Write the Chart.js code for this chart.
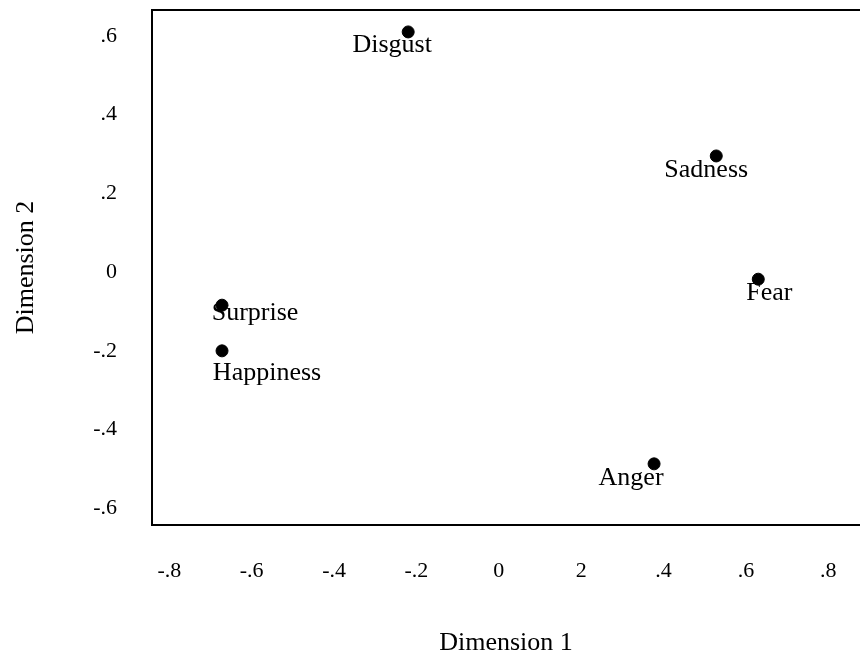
<!DOCTYPE html>
<html>
<head>
<meta charset="utf-8">
<script src="https://cdn.jsdelivr.net/npm/chart.js@4"></script>
<style>
  html, body { margin: 0; padding: 0; background: #fff; }
  #wrap { width: 860px; height: 656px; }
</style>
</head>
<body>
<div id="wrap"><canvas id="grafico" width="860" height="656"></canvas></div>
<script>
// emotion coordinates
const emotions = ["Disgust", "Sadness", "Fear", "Surprise", "Happiness", "Anger"];
const dim1 = [-0.22, 0.528, 0.63, -0.672, -0.672, 0.377];
const dim2 = [0.61, 0.295, -0.018, -0.084, -0.2, -0.487];

const xTicks = [-0.8, -0.6, -0.4, -0.2, 0, 0.2, 0.4, 0.6, 0.8];
const xTickLabels = ["-.8", "-.6", "-.4", "-.2", "0", "2", ".4", ".6", ".8"];
const yTicks = [-0.6, -0.4, -0.2, 0, 0.2, 0.4, 0.6];
const yTickLabels = ["-.6", "-.4", "-.2", "0", ".2", ".4", ".6"];

// where each name sits relative to its dot (px)
const labelPos = {
  Disgust: [-16, 20], Sadness: [-10, 21], Fear: [11, 21],
  Surprise: [33, 15], Happiness: [45, 29], Anger: [-23, 21]
};

const serif = "'Liberation Serif', 'DejaVu Serif', serif";

const pointLabels = {
  id: "pointLabels",
  afterDatasetsDraw(chart) {
    const ctx = chart.ctx;
    const meta = chart.getDatasetMeta(0);
    ctx.save();
    ctx.font = "26px " + serif;
    ctx.fillStyle = "#000";
    ctx.textAlign = "center";
    ctx.textBaseline = "alphabetic";
    meta.data.forEach((pt, i) => {
      const off = labelPos[emotions[i]] || [0, 20];
      ctx.fillText(emotions[i], pt.x + off[0], pt.y + off[1]);
    });
    ctx.restore();
  }
};

// box open on the right, like the scan
const frame = {
  id: "frame",
  afterDraw(chart) {
    const { ctx, chartArea: a } = chart;
    ctx.save();
    ctx.strokeStyle = "#000";
    ctx.lineWidth = 2;
    ctx.beginPath();
    ctx.moveTo(a.right, a.top);
    ctx.lineTo(a.left, a.top);
    ctx.lineTo(a.left, a.bottom);
    ctx.lineTo(a.right, a.bottom);
    ctx.stroke();
    ctx.restore();
  }
};

const noPad = (s) => { s.paddingLeft = 0; s.paddingRight = 0; s.paddingTop = 0; s.paddingBottom = 0; };

const ctx = document.getElementById("grafico").getContext("2d");
new Chart(ctx, {
  type: "scatter",
  data: {
    datasets: [{
      label: "Emotions",
      data: emotions.map((e, i) => ({ x: dim1[i], y: dim2[i] })),
      backgroundColor: "#000",
      borderColor: "#000",
      pointRadius: 6,
      pointHoverRadius: 6,
    }],
  },
  options: {
    responsive: false,
    animation: false,
    layout: { autoPadding: false, padding: { top: 10, right: 0, left: 0, bottom: 0 } },
    plugins: { legend: { display: false }, tooltip: { enabled: false } },
    scales: {
      x: {
        type: "linear",
        min: -0.842,
        max: 0.877,
        afterFit: (s) => { s.height = 131; noPad(s); },
        afterBuildTicks: (s) => { s.ticks = xTicks.map((v) => ({ value: v })); },
        grid: { display: false, drawTicks: false },
        border: { display: false },
        ticks: {
          padding: 33,
          color: "#000",
          font: { family: serif, size: 22 },
          callback: (v) => { const k = xTicks.findIndex((t) => Math.abs(t - v) < 1e-6); return k >= 0 ? xTickLabels[k] : ""; },
        },
        title: {
          display: true,
          text: "Dimension 1",
          color: "#000",
          font: { family: serif, size: 26, lineHeight: 1.0 },
          padding: { top: 0, bottom: 0 },
        },
      },
      y: {
        type: "linear",
        min: -0.6423,
        max: 0.6657,
        afterFit: (s) => { s.width = 152; noPad(s); },
        afterBuildTicks: (s) => { s.ticks = yTicks.map((v) => ({ value: v })); },
        grid: { display: false, drawTicks: false },
        border: { display: false },
        ticks: {
          padding: 35,
          color: "#000",
          font: { family: serif, size: 22 },
          callback: (v) => { const k = yTicks.findIndex((t) => Math.abs(t - v) < 1e-6); return k >= 0 ? yTickLabels[k] : ""; },
        },
        title: {
          display: true,
          text: "Dimension 2",
          color: "#000",
          font: { family: serif, size: 26, lineHeight: 1.2 },
          padding: { top: 11, bottom: 0 },
        },
      },
    },
  },
  plugins: [pointLabels, frame],
});
</script>
</body>
</html>
